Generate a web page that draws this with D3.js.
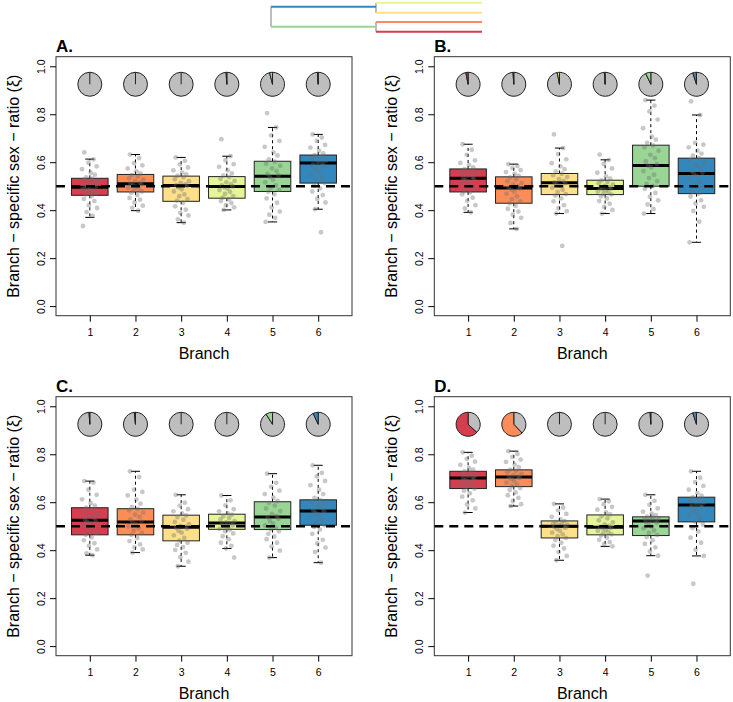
<!DOCTYPE html>
<html>
<head>
<meta charset="utf-8">
<script src="https://cdn.jsdelivr.net/npm/d3@7"></script>
<style>
  body { margin: 0; background: #fff; }
  text { font-family: "Liberation Sans", Arial, sans-serif; }
</style>
</head>
<body>
<script>
var width = 733,
    height = 702;

// branches and colours (RColorBrewer Spectral, 6 classes)
var branches = [1, 2, 3, 4, 5, 6];
var branchColors = ['#D53E4F', '#FC8D59', '#FEE08B', '#E6F598', '#99D594', '#3288BD'];
var yTicks = [0, 0.2, 0.4, 0.6, 0.8, 1.0];
var panelLabels = ['A.', 'B.', 'C.', 'D.'];
var axisTitleX = 'Branch',
    axisTitleY = 'Branch \u2212 specific sex \u2212 ratio (\u03BE)';

// boxplot stats per branch: [lower whisker, Q1, median, Q3, upper whisker]
var statsA = [[0.370, 0.462, 0.496, 0.533, 0.613], [0.398, 0.476, 0.510, 0.549, 0.632], [0.348, 0.437, 0.503, 0.542, 0.620],
              [0.401, 0.450, 0.499, 0.540, 0.625], [0.351, 0.478, 0.542, 0.604, 0.745], [0.404, 0.513, 0.597, 0.630, 0.716]];
var statsB = [[0.391, 0.476, 0.533, 0.572, 0.675], [0.322, 0.429, 0.492, 0.539, 0.592], [0.386, 0.465, 0.514, 0.553, 0.659],
              [0.386, 0.465, 0.490, 0.525, 0.610], [0.386, 0.500, 0.586, 0.671, 0.859], [0.266, 0.469, 0.553, 0.617, 0.797]];
var statsC = [[0.379, 0.464, 0.525, 0.577, 0.688], [0.390, 0.464, 0.517, 0.573, 0.729], [0.333, 0.439, 0.496, 0.546, 0.631],
              [0.407, 0.487, 0.513, 0.550, 0.628], [0.369, 0.486, 0.538, 0.602, 0.719], [0.348, 0.504, 0.563, 0.610, 0.754]];
var statsD = [[0.557, 0.657, 0.701, 0.729, 0.808], [0.584, 0.665, 0.705, 0.735, 0.813], [0.358, 0.451, 0.500, 0.522, 0.593],
              [0.416, 0.464, 0.496, 0.547, 0.613], [0.377, 0.461, 0.522, 0.539, 0.631], [0.376, 0.518, 0.588, 0.621, 0.729]];

// replicate values
var pointsA = [
  [0.641, 0.612, 0.598, 0.583, 0.571, 0.556, 0.548, 0.537, 0.531, 0.526, 0.519, 0.514, 0.507, 0.503, 0.499, 0.496, 0.492, 0.488, 0.481, 0.477, 0.470, 0.466, 0.458, 0.447, 0.438, 0.421, 0.409, 0.392, 0.376, 0.334],
  [0.632, 0.617, 0.596, 0.587, 0.574, 0.562, 0.553, 0.546, 0.540, 0.533, 0.527, 0.521, 0.515, 0.511, 0.508, 0.503, 0.498, 0.494, 0.489, 0.483, 0.478, 0.472, 0.463, 0.451, 0.444, 0.432, 0.419, 0.410, 0.398],
  [0.620, 0.606, 0.591, 0.578, 0.566, 0.557, 0.549, 0.543, 0.537, 0.529, 0.521, 0.514, 0.508, 0.504, 0.501, 0.495, 0.487, 0.478, 0.466, 0.458, 0.447, 0.439, 0.431, 0.416, 0.402, 0.389, 0.378, 0.362, 0.348],
  [0.696, 0.625, 0.608, 0.592, 0.581, 0.566, 0.553, 0.544, 0.538, 0.531, 0.522, 0.516, 0.508, 0.503, 0.499, 0.496, 0.490, 0.484, 0.476, 0.468, 0.459, 0.452, 0.446, 0.438, 0.430, 0.421, 0.412, 0.401],
  [0.805, 0.745, 0.712, 0.689, 0.664, 0.641, 0.628, 0.612, 0.602, 0.594, 0.585, 0.574, 0.563, 0.551, 0.545, 0.538, 0.527, 0.516, 0.503, 0.494, 0.485, 0.477, 0.466, 0.449, 0.431, 0.412, 0.394, 0.381, 0.368, 0.351],
  [0.716, 0.703, 0.689, 0.672, 0.661, 0.648, 0.637, 0.629, 0.621, 0.614, 0.607, 0.600, 0.596, 0.591, 0.584, 0.573, 0.562, 0.548, 0.536, 0.524, 0.513, 0.502, 0.491, 0.478, 0.463, 0.447, 0.432, 0.404, 0.308]
];
var pointsB = [
  [0.675, 0.652, 0.631, 0.608, 0.597, 0.589, 0.578, 0.571, 0.565, 0.558, 0.551, 0.544, 0.538, 0.534, 0.531, 0.526, 0.519, 0.512, 0.503, 0.497, 0.488, 0.479, 0.474, 0.466, 0.452, 0.439, 0.421, 0.407, 0.391],
  [0.592, 0.584, 0.576, 0.567, 0.559, 0.551, 0.543, 0.537, 0.529, 0.521, 0.513, 0.506, 0.499, 0.494, 0.490, 0.486, 0.478, 0.469, 0.458, 0.446, 0.437, 0.428, 0.418, 0.406, 0.394, 0.381, 0.368, 0.347, 0.322],
  [0.716, 0.659, 0.634, 0.612, 0.596, 0.583, 0.571, 0.562, 0.552, 0.546, 0.538, 0.529, 0.522, 0.516, 0.513, 0.508, 0.501, 0.494, 0.485, 0.476, 0.467, 0.461, 0.449, 0.437, 0.421, 0.408, 0.396, 0.386, 0.251],
  [0.632, 0.610, 0.593, 0.574, 0.556, 0.541, 0.531, 0.524, 0.518, 0.512, 0.506, 0.501, 0.496, 0.492, 0.490, 0.487, 0.483, 0.478, 0.474, 0.469, 0.465, 0.458, 0.449, 0.438, 0.427, 0.414, 0.401, 0.386],
  [0.859, 0.836, 0.812, 0.778, 0.742, 0.707, 0.694, 0.681, 0.670, 0.662, 0.648, 0.631, 0.617, 0.603, 0.592, 0.586, 0.579, 0.563, 0.548, 0.534, 0.521, 0.509, 0.500, 0.489, 0.472, 0.456, 0.441, 0.424, 0.405, 0.386],
  [0.854, 0.797, 0.681, 0.673, 0.662, 0.648, 0.636, 0.627, 0.617, 0.609, 0.598, 0.587, 0.574, 0.563, 0.556, 0.551, 0.543, 0.532, 0.519, 0.505, 0.491, 0.478, 0.469, 0.457, 0.441, 0.428, 0.414, 0.397, 0.352, 0.266]
];
var pointsC = [
  [0.688, 0.682, 0.652, 0.631, 0.612, 0.596, 0.586, 0.577, 0.569, 0.561, 0.552, 0.544, 0.535, 0.528, 0.524, 0.519, 0.511, 0.502, 0.494, 0.483, 0.472, 0.464, 0.453, 0.441, 0.429, 0.418, 0.403, 0.387, 0.379],
  [0.729, 0.705, 0.652, 0.643, 0.628, 0.611, 0.594, 0.579, 0.572, 0.566, 0.557, 0.548, 0.539, 0.528, 0.519, 0.515, 0.508, 0.499, 0.491, 0.482, 0.472, 0.464, 0.451, 0.438, 0.424, 0.412, 0.403, 0.390],
  [0.631, 0.598, 0.586, 0.571, 0.562, 0.553, 0.545, 0.538, 0.527, 0.518, 0.509, 0.501, 0.497, 0.494, 0.489, 0.481, 0.473, 0.462, 0.451, 0.440, 0.431, 0.422, 0.413, 0.401, 0.389, 0.371, 0.352, 0.333],
  [0.628, 0.608, 0.587, 0.571, 0.562, 0.553, 0.548, 0.541, 0.534, 0.528, 0.521, 0.516, 0.513, 0.509, 0.504, 0.499, 0.494, 0.489, 0.486, 0.479, 0.470, 0.458, 0.446, 0.431, 0.418, 0.407, 0.369],
  [0.719, 0.681, 0.664, 0.648, 0.634, 0.619, 0.605, 0.597, 0.586, 0.574, 0.563, 0.551, 0.543, 0.538, 0.531, 0.522, 0.512, 0.503, 0.494, 0.487, 0.479, 0.468, 0.457, 0.446, 0.431, 0.415, 0.398, 0.369],
  [0.754, 0.722, 0.708, 0.689, 0.671, 0.652, 0.634, 0.618, 0.609, 0.601, 0.593, 0.584, 0.575, 0.567, 0.562, 0.556, 0.548, 0.539, 0.527, 0.514, 0.504, 0.497, 0.486, 0.468, 0.443, 0.428, 0.411, 0.392, 0.348]
];
var pointsD = [
  [0.808, 0.794, 0.781, 0.769, 0.756, 0.743, 0.736, 0.729, 0.724, 0.718, 0.713, 0.708, 0.704, 0.701, 0.697, 0.692, 0.686, 0.679, 0.671, 0.664, 0.657, 0.648, 0.637, 0.623, 0.608, 0.591, 0.574, 0.557],
  [0.813, 0.801, 0.789, 0.778, 0.768, 0.757, 0.746, 0.736, 0.731, 0.724, 0.718, 0.712, 0.708, 0.705, 0.701, 0.696, 0.689, 0.682, 0.674, 0.667, 0.659, 0.651, 0.641, 0.629, 0.618, 0.604, 0.592, 0.584],
  [0.593, 0.578, 0.566, 0.551, 0.539, 0.528, 0.522, 0.518, 0.514, 0.510, 0.506, 0.503, 0.500, 0.497, 0.493, 0.488, 0.481, 0.473, 0.466, 0.458, 0.451, 0.442, 0.431, 0.419, 0.407, 0.392, 0.376, 0.358],
  [0.613, 0.604, 0.592, 0.581, 0.569, 0.558, 0.549, 0.541, 0.533, 0.524, 0.516, 0.508, 0.501, 0.497, 0.494, 0.491, 0.486, 0.481, 0.476, 0.471, 0.466, 0.461, 0.452, 0.443, 0.434, 0.426, 0.416],
  [0.631, 0.606, 0.589, 0.574, 0.561, 0.552, 0.546, 0.540, 0.536, 0.532, 0.528, 0.525, 0.522, 0.519, 0.514, 0.507, 0.499, 0.491, 0.482, 0.472, 0.463, 0.455, 0.441, 0.426, 0.412, 0.394, 0.377, 0.294],
  [0.729, 0.702, 0.684, 0.668, 0.652, 0.638, 0.627, 0.620, 0.613, 0.606, 0.599, 0.592, 0.588, 0.584, 0.578, 0.569, 0.558, 0.546, 0.531, 0.519, 0.507, 0.493, 0.478, 0.452, 0.431, 0.402, 0.376, 0.260]
];

// share of posterior mass with a shift on each branch (pies)
var pieA = [0, 0, 0, 0.01, 0.04, 0.01];
var pieB = [0.03, 0.01, 0.03, 0.01, 0.07, 0.05];
var pieC = [0.01, 0.015, 0, 0, 0.09, 0.07];
var pieD = [0.63, 0.62, 0, 0, 0.01, 0.05];

// horizontal jitter of the replicate points (branch units)
var jitter = [-0.12, 0.08, -0.03, 0.15, -0.17, 0.02, 0.11, -0.08, 0.05, -0.14, 0.17, -0.01, 0.09, -0.11, 0.13,
              -0.06, 0.01, -0.16, 0.07, -0.04, 0.14, -0.09, 0.04, -0.13, 0.10, -0.02, 0.16, -0.07, 0.06, -0.15];

var panels = [
    {label: panelLabels[0], stats: statsA, points: pointsA, pie: pieA, left: 56, top: 56.7},
    {label: panelLabels[1], stats: statsB, points: pointsB, pie: pieB, left: 434.3, top: 56.7},
    {label: panelLabels[2], stats: statsC, points: pointsC, pie: pieC, left: 56, top: 396.7},
    {label: panelLabels[3], stats: statsD, points: pointsD, pie: pieD, left: 434.3, top: 396.7}
];
var pw = 296, ph = 259;

var svg = d3.select('body').append('svg')
    .attr('width', width)
    .attr('height', height);

// little tree on top
var tree = svg.append('g').attr('class', 'tree')
    .attr('fill', 'none')
    .attr('stroke-width', 2);
var tipY = [2.7, 12.7, 22, 31.7],
    tipColors = [branchColors[3], branchColors[2], branchColors[1], branchColors[0]];
tree.append('path').attr('d', 'M271,6.7V26.7').attr('stroke', '#bdbdbd');
tree.append('path').attr('d', 'M376,2.7V12.7M376,22V31.7').attr('stroke', '#bdbdbd');
tree.append('path').attr('d', 'M271,6.7H376').attr('stroke', branchColors[5]);
tree.append('path').attr('d', 'M271,26.7H376').attr('stroke', branchColors[4]);
tree.selectAll('.tip').data(tipY).enter().append('path')
    .attr('d', function(d) { return 'M376,' + d + 'H482'; })
    .attr('stroke', function(d, i) { return tipColors[i]; });

panels.forEach(function(p) {
    var x = d3.scaleLinear().domain([0.26, 6.74]).range([p.left, p.left + pw]),
        y = d3.scaleLinear().domain([-0.04, 1.04]).range([p.top + ph, p.top]);
    var g = svg.append('g');
    var bw = x(1.4) - x(1),
        cw = bw / 2;

    // boxes
    var box = g.selectAll('.bx').data(p.stats).enter().append('g');
    box.append('path')  // whiskers
        .attr('d', function(d, i) {
            var cx = x(branches[i]);
            return 'M' + cx + ',' + y(d[3]) + 'V' + y(d[4]) + 'M' + cx + ',' + y(d[1]) + 'V' + y(d[0]);
        })
        .attr('stroke', '#000').attr('stroke-dasharray', '3,3').attr('fill', 'none');
    box.append('path')  // caps
        .attr('d', function(d, i) {
            var cx = x(branches[i]);
            return 'M' + (cx - cw / 2) + ',' + y(d[4]) + 'H' + (cx + cw / 2) +
                   'M' + (cx - cw / 2) + ',' + y(d[0]) + 'H' + (cx + cw / 2);
        })
        .attr('stroke', '#000').attr('fill', 'none');
    box.append('rect')
        .attr('x', function(d, i) { return x(branches[i]) - bw; })
        .attr('width', bw * 2)
        .attr('y', function(d) { return y(d[3]); })
        .attr('height', function(d) { return y(d[1]) - y(d[3]); })
        .attr('fill', function(d, i) { return branchColors[i]; })
        .attr('stroke', '#222').attr('stroke-width', 1);
    box.append('path')  // medians
        .attr('d', function(d, i) {
            return 'M' + (x(branches[i]) - bw) + ',' + y(d[2]) + 'H' + (x(branches[i]) + bw);
        })
        .attr('stroke', '#000').attr('stroke-width', 3);

    // replicate points
    p.points.forEach(function(vals, i) {
        g.selectAll(null).data(vals).enter().append('circle')
            .attr('cx', function(d, j) { return x(branches[i] + jitter[j % jitter.length]); })
            .attr('cy', function(d) { return y(d); })
            .attr('r', 2.4)
            .attr('fill', 'rgba(110,110,110,0.38)');
    });

    // reference line at 0.5
    g.append('line')
        .attr('x1', p.left).attr('x2', p.left + pw)
        .attr('y1', y(0.5)).attr('y2', y(0.5))
        .attr('stroke', '#000').attr('stroke-width', 2.5)
        .attr('stroke-dasharray', '9,6');

    // pies, starting at 12 o'clock, counter-clockwise
    var arc = d3.arc().innerRadius(0).outerRadius(12);
    p.pie.forEach(function(v, i) {
        var pg = g.append('g').attr('transform', 'translate(' + x(branches[i]) + ',' + y(0.925) + ')');
        var a = v * 2 * Math.PI;
        pg.append('path')
            .attr('d', arc({startAngle: 0, endAngle: 2 * Math.PI - a}))
            .attr('fill', '#bebebe').attr('stroke', '#222');
        if (v > 0) {
            pg.append('path')
                .attr('d', arc({startAngle: -a, endAngle: 0}))
                .attr('fill', branchColors[i]).attr('stroke', '#222');
        } else {
            pg.append('path').attr('d', 'M0,0V-12').attr('stroke', '#222');
        }
    });

    // plot frame
    g.append('rect')
        .attr('x', p.left).attr('y', p.top)
        .attr('width', pw).attr('height', ph)
        .attr('fill', 'none').attr('stroke', '#333');

    // axes
    var ax = g.append('g')
        .attr('transform', 'translate(0,' + (p.top + ph) + ')')
        .call(d3.axisBottom(x).tickValues(branches).tickFormat(d3.format('d'))
            .tickSize(6).tickPadding(7).tickSizeOuter(0));
    ax.select('.domain').remove();
    ax.selectAll('text').attr('font-size', 10.5).attr('font-family', '"Liberation Sans", Arial, sans-serif');

    var ay = g.append('g')
        .attr('transform', 'translate(' + p.left + ',0)')
        .call(d3.axisLeft(y).tickValues(yTicks).tickFormat(d3.format('.1f')).tickSize(6).tickSizeOuter(0));
    ay.select('.domain').remove();
    ay.selectAll('text')
        .attr('transform', 'rotate(-90)')
        .attr('x', 0).attr('y', -11).attr('dy', 0)
        .attr('text-anchor', 'middle')
        .attr('font-size', 10.5)
        .attr('font-family', '"Liberation Sans", Arial, sans-serif');

    // titles
    g.append('text')
        .attr('x', p.left + pw / 2).attr('y', p.top + ph + 43)
        .attr('text-anchor', 'middle').attr('font-size', 16)
        .text(axisTitleX);
    g.append('text')
        .attr('transform', 'translate(' + (p.left - 37) + ',' + (p.top + ph / 2) + ')rotate(-90)')
        .attr('text-anchor', 'middle').attr('font-size', 16)
        .text(axisTitleY);
    g.append('text')
        .attr('x', p.left).attr('y', p.top - 4.5)
        .attr('font-size', 17).attr('font-weight', 'bold')
        .text(p.label);
});
</script>
</body>
</html>
